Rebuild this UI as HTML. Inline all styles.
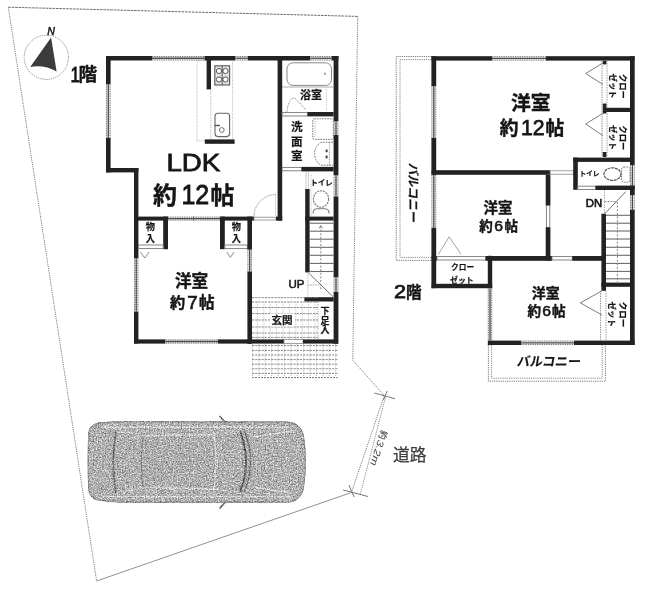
<!DOCTYPE html>
<html lang="ja"><head><meta charset="utf-8"><title>間取り図</title>
<style>
html,body{margin:0;padding:0;background:#fff}
body{width:651px;height:596px;overflow:hidden;font-family:"Liberation Sans",sans-serif}
svg{display:block;font-family:"Liberation Sans",sans-serif;filter:grayscale(1)}
.cj{font-family:"Liberation Sans","Noto Sans CJK JP",sans-serif}
</style></head><body>
<svg width="651" height="596" viewBox="0 0 651 596">
<rect width="651" height="596" fill="#fff"/>
<g opacity="0.999">
<line x1="8.3" y1="7.2" x2="357.7" y2="16.4" stroke="#6c6c6c" stroke-width="1" stroke-dasharray="2.6 0.8"/>
<line x1="8.3" y1="7.2" x2="96.6" y2="581" stroke="#7c7c7c" stroke-width="1" stroke-dasharray="1.2 1"/>
<polyline points="357.7,16.4 352.8,360.2 384.3,395.6 351.4,492.5" fill="none" stroke="#7c7c7c" stroke-width="1" stroke-dasharray="1.2 1"/>
<line x1="351.4" y1="492.5" x2="96.6" y2="581" stroke="#858585" stroke-width="0.9"/>
<line x1="385.4" y1="397.5" x2="360" y2="495.4" stroke="#8a8a8a" stroke-width="1" stroke-dasharray="1.2 1"/>
<line x1="374.3" y1="393" x2="395" y2="398.7" stroke="#777" stroke-width="1"/>
<line x1="387.2" y1="391" x2="383.4" y2="400" stroke="#777" stroke-width="1"/>
<line x1="343" y1="490" x2="368" y2="496.5" stroke="#777" stroke-width="1"/>
<line x1="349" y1="485" x2="354" y2="497" stroke="#777" stroke-width="1"/>
<circle cx="46.3" cy="57.3" r="22.1" fill="none" stroke="#8a8a8a" stroke-width="1" stroke-dasharray="1.2 1"/>
<path d="M51.1 37.6 L30.2 67 Q44.5 64.5 56.6 71.6 Z" fill="#3c3c3c"/>
<text x="47.3" y="35.3" font-size="10.6" text-anchor="start" font-weight="normal" font-style="italic" fill="#151515" stroke="#151515" stroke-width="0.45">N</text>
<defs><filter id="grain" x="-3%" y="-6%" width="106%" height="112%" color-interpolation-filters="sRGB"><feTurbulence type="fractalNoise" baseFrequency="0.75" numOctaves="2" seed="11" result="t"/><feColorMatrix in="t" type="matrix" values="1 0 0 0 0  1 0 0 0 0  1 0 0 0 0  0 0 0 0 1" result="n"/><feComposite in="SourceGraphic" in2="n" operator="arithmetic" k1="0" k2="1" k3="0.9" k4="-0.425" result="m"/><feComposite in="m" in2="SourceGraphic" operator="in"/></filter></defs>
<g filter="url(#grain)">
<path d="M98.5 423.2 Q112 421.6 126 421.6 L288 422.2 Q300 423 303.4 436 Q307.2 462 303.4 488 Q300 501 288 502 L126 502.2 Q110 502 97 499.6 Q89.5 497.5 88.8 489 Q87.6 462 88.8 433 Q89.6 425.2 98.5 423.2 Z" fill="#aaaaaa" stroke="#8a8a8a" stroke-width="1.2"/>
<path d="M143 436 L214 434.5 Q218 462 214 489 L143 487.5 Q139.5 462 143 436 Z" fill="#a8a8a8" stroke="#cdcdcd" stroke-width="1.3"/>
<path d="M143 436 Q139.5 462 143 487.5" fill="none" stroke="#7a7a7a" stroke-width="1.3"/>
<path d="M116 431 Q110.5 462 116 493" fill="none" stroke="#666" stroke-width="1.6"/>
<path d="M116 431 L143 436 M116 493 L143 487.5" fill="none" stroke="#c4c4c4" stroke-width="1.1"/>
<path d="M240 431 Q252 462 240 492" fill="none" stroke="#505050" stroke-width="1.8"/>
<path d="M244.5 431.5 Q256.5 462 244.5 491.5" fill="none" stroke="#6a6a6a" stroke-width="1.3"/>
<path d="M214 434.5 L240 431 M214 489 L240 492" fill="none" stroke="#c4c4c4" stroke-width="1.1"/>
<path d="M253 437 L292 431 M253 487 L292 493" fill="none" stroke="#cfcfcf" stroke-width="1.3"/>
<path d="M102 427.2 L290 427.2 M102 496.6 L290 496.6" fill="none" stroke="#cfcfcf" stroke-width="1.4"/>
<path d="M219.5 416 L226.5 423.5 M219.5 508.5 L226.5 501" stroke="#707070" stroke-width="1.6" fill="none"/>
</g>
<rect x="106" y="56" width="46" height="4.5" fill="#222"/>
<rect x="152" y="56" width="52.5" height="4.5" fill="#f1f1f1"/>
<line x1="152" y1="56.5" x2="204.5" y2="56.5" stroke="#6e6e6e" stroke-width="0.9" stroke-dasharray="1.4 0.9"/>
<line x1="152" y1="60" x2="204.5" y2="60" stroke="#6e6e6e" stroke-width="0.9" stroke-dasharray="1.4 0.9"/>
<line x1="152" y1="58.25" x2="204.5" y2="58.25" stroke="#4a4a4a" stroke-width="1.3"/>
<rect x="204.5" y="56" width="30.5" height="4.5" fill="#222"/>
<rect x="235" y="56" width="13" height="4.5" fill="#f1f1f1"/>
<line x1="235" y1="56.5" x2="248" y2="56.5" stroke="#6e6e6e" stroke-width="0.9" stroke-dasharray="1.4 0.9"/>
<line x1="235" y1="60" x2="248" y2="60" stroke="#6e6e6e" stroke-width="0.9" stroke-dasharray="1.4 0.9"/>
<line x1="235" y1="58.25" x2="248" y2="58.25" stroke="#4a4a4a" stroke-width="1.3"/>
<rect x="248" y="56" width="62.3" height="4.5" fill="#222"/>
<rect x="310.3" y="56" width="21.3" height="4.5" fill="#f1f1f1"/>
<line x1="310.3" y1="56.5" x2="331.6" y2="56.5" stroke="#6e6e6e" stroke-width="0.9" stroke-dasharray="1.4 0.9"/>
<line x1="310.3" y1="60" x2="331.6" y2="60" stroke="#6e6e6e" stroke-width="0.9" stroke-dasharray="1.4 0.9"/>
<line x1="310.3" y1="58.25" x2="331.6" y2="58.25" stroke="#4a4a4a" stroke-width="1.3"/>
<rect x="331.6" y="56" width="6.8" height="4.5" fill="#222"/>
<rect x="106" y="56" width="4.6" height="28" fill="#222"/>
<rect x="106" y="84" width="4.6" height="54" fill="#f1f1f1"/>
<line x1="106.5" y1="84" x2="106.5" y2="138" stroke="#6e6e6e" stroke-width="0.9" stroke-dasharray="1.4 0.9"/>
<line x1="110.1" y1="84" x2="110.1" y2="138" stroke="#6e6e6e" stroke-width="0.9" stroke-dasharray="1.4 0.9"/>
<line x1="108.3" y1="84" x2="108.3" y2="138" stroke="#4a4a4a" stroke-width="1.3"/>
<rect x="106" y="138" width="4.6" height="34.4" fill="#222"/>
<rect x="106" y="168" width="32.4" height="4.4" fill="#222"/>
<rect x="134" y="168" width="4.4" height="90" fill="#222"/>
<rect x="134" y="258" width="4.4" height="53.6" fill="#f1f1f1"/>
<line x1="134.5" y1="258" x2="134.5" y2="311.6" stroke="#6e6e6e" stroke-width="0.9" stroke-dasharray="1.4 0.9"/>
<line x1="137.9" y1="258" x2="137.9" y2="311.6" stroke="#6e6e6e" stroke-width="0.9" stroke-dasharray="1.4 0.9"/>
<line x1="136.2" y1="258" x2="136.2" y2="311.6" stroke="#4a4a4a" stroke-width="1.3"/>
<rect x="134" y="311.6" width="4.4" height="32" fill="#222"/>
<rect x="134" y="339.4" width="31.5" height="4.2" fill="#222"/>
<rect x="165.5" y="339.4" width="52.5" height="4.2" fill="#f1f1f1"/>
<line x1="165.5" y1="339.9" x2="218" y2="339.9" stroke="#6e6e6e" stroke-width="0.9" stroke-dasharray="1.4 0.9"/>
<line x1="165.5" y1="343.1" x2="218" y2="343.1" stroke="#6e6e6e" stroke-width="0.9" stroke-dasharray="1.4 0.9"/>
<line x1="165.5" y1="341.5" x2="218" y2="341.5" stroke="#4a4a4a" stroke-width="1.3"/>
<rect x="218" y="339.4" width="66" height="4.2" fill="#222"/>
<rect x="284" y="339.6" width="19" height="3.8" fill="#fff" stroke="#888" stroke-width="0.8"/>
<rect x="303" y="339.4" width="35" height="4.2" fill="#222"/>
<rect x="333.6" y="56" width="4.8" height="65" fill="#222"/>
<rect x="333.6" y="121" width="4.8" height="14" fill="#f1f1f1"/>
<line x1="334.1" y1="121" x2="334.1" y2="135" stroke="#6e6e6e" stroke-width="0.9" stroke-dasharray="1.4 0.9"/>
<line x1="337.9" y1="121" x2="337.9" y2="135" stroke="#6e6e6e" stroke-width="0.9" stroke-dasharray="1.4 0.9"/>
<line x1="336" y1="121" x2="336" y2="135" stroke="#4a4a4a" stroke-width="1.3"/>
<rect x="333.6" y="135" width="4.8" height="40" fill="#222"/>
<rect x="333.6" y="175" width="4.8" height="21.5" fill="#f1f1f1"/>
<line x1="334.1" y1="175" x2="334.1" y2="196.5" stroke="#6e6e6e" stroke-width="0.9" stroke-dasharray="1.4 0.9"/>
<line x1="337.9" y1="175" x2="337.9" y2="196.5" stroke="#6e6e6e" stroke-width="0.9" stroke-dasharray="1.4 0.9"/>
<line x1="336" y1="175" x2="336" y2="196.5" stroke="#4a4a4a" stroke-width="1.3"/>
<rect x="333.6" y="196.5" width="4.8" height="80.5" fill="#222"/>
<rect x="333.6" y="277" width="4.8" height="15" fill="#f1f1f1"/>
<line x1="334.1" y1="277" x2="334.1" y2="292" stroke="#6e6e6e" stroke-width="0.9" stroke-dasharray="1.4 0.9"/>
<line x1="337.9" y1="277" x2="337.9" y2="292" stroke="#6e6e6e" stroke-width="0.9" stroke-dasharray="1.4 0.9"/>
<line x1="336" y1="277" x2="336" y2="292" stroke="#4a4a4a" stroke-width="1.3"/>
<rect x="333.6" y="292" width="4.8" height="51.8" fill="#222"/>
<rect x="277.6" y="56" width="4.6" height="164.6" fill="#222"/>
<path d="M254 216.6 A22 22 0 0 1 276 194.6" fill="none" stroke="#808080" stroke-width="1" stroke-dasharray="1.2 1"/>
<line x1="275.6" y1="195" x2="275.6" y2="216.6" stroke="#999" stroke-width="0.8" stroke-dasharray="1 1.2"/>
<rect x="134" y="216.6" width="34" height="4" fill="#222"/>
<rect x="168" y="216.6" width="52.8" height="4" fill="#f1f1f1"/>
<line x1="168" y1="217.1" x2="220.8" y2="217.1" stroke="#6e6e6e" stroke-width="0.9" stroke-dasharray="1.4 0.9"/>
<line x1="168" y1="220.1" x2="220.8" y2="220.1" stroke="#6e6e6e" stroke-width="0.9" stroke-dasharray="1.4 0.9"/>
<line x1="168" y1="218.6" x2="220.8" y2="218.6" stroke="#4a4a4a" stroke-width="1.3"/>
<line x1="193.5" y1="216.6" x2="193.5" y2="220.6" stroke="#666" stroke-width="1"/>
<rect x="220.8" y="216.6" width="33.2" height="4" fill="#222"/>
<rect x="254" y="217.2" width="22" height="2.8" fill="#fff" stroke="#888" stroke-width="0.8"/>
<rect x="276" y="216.6" width="6.2" height="4" fill="#222"/>
<rect x="163.2" y="216.6" width="4.8" height="32.6" fill="#222"/>
<rect x="138.4" y="245" width="24.8" height="3.6" fill="#fff" stroke="#777" stroke-width="0.9"/>
<path d="M140.4 252 L144.8 258 L149.2 252" fill="none" stroke="#808080" stroke-width="0.9"/>
<rect x="220" y="216.6" width="4.8" height="32.6" fill="#222"/>
<rect x="224.8" y="245" width="22.6" height="3.6" fill="#fff" stroke="#777" stroke-width="0.9"/>
<path d="M226.8 252 L230.4 257.4 L234 252" fill="none" stroke="#808080" stroke-width="0.9"/>
<rect x="247.4" y="216.6" width="4.6" height="33.2" fill="#222"/>
<rect x="247.4" y="249.8" width="4.6" height="21.7" fill="#f1f1f1"/>
<line x1="247.9" y1="249.8" x2="247.9" y2="271.5" stroke="#6e6e6e" stroke-width="0.9" stroke-dasharray="1.4 0.9"/>
<line x1="251.5" y1="249.8" x2="251.5" y2="271.5" stroke="#6e6e6e" stroke-width="0.9" stroke-dasharray="1.4 0.9"/>
<line x1="249.7" y1="249.8" x2="249.7" y2="271.5" stroke="#4a4a4a" stroke-width="1.3"/>
<rect x="247.4" y="271.5" width="4.6" height="72.3" fill="#222"/>
<rect x="282.2" y="112.6" width="25.4" height="3.4" fill="#fff" stroke="#777" stroke-width="0.9"/>
<rect x="307.6" y="112" width="26" height="4.4" fill="#222"/>
<path d="M287 111.6 Q288.5 98.5 294.5 97.8 L306 109.8" fill="none" stroke="#808080" stroke-width="1" stroke-dasharray="1.4 1"/>
<rect x="282.2" y="167.4" width="19.4" height="3.4" fill="#fff" stroke="#777" stroke-width="0.9"/>
<rect x="301.6" y="166.9" width="32" height="4.5" fill="#222"/>
<line x1="306" y1="171.4" x2="306" y2="189" stroke="#888" stroke-width="0.9" stroke-dasharray="1 1"/>
<line x1="308.4" y1="171.4" x2="308.4" y2="189" stroke="#999" stroke-width="0.9" stroke-dasharray="1 1"/>
<rect x="305.2" y="189" width="4.4" height="83.4" fill="#222"/>
<rect x="305" y="216.6" width="28.6" height="4" fill="#222"/>
<line x1="309.6" y1="223.2" x2="333.6" y2="223.2" stroke="#6a6a6a" stroke-width="1.1"/>
<line x1="309.6" y1="231.2" x2="333.6" y2="231.2" stroke="#6a6a6a" stroke-width="1.1"/>
<line x1="309.6" y1="239.2" x2="333.6" y2="239.2" stroke="#6a6a6a" stroke-width="1.1"/>
<line x1="309.6" y1="247.3" x2="333.6" y2="247.3" stroke="#6a6a6a" stroke-width="1.1"/>
<line x1="309.6" y1="255.3" x2="333.6" y2="255.3" stroke="#6a6a6a" stroke-width="1.1"/>
<line x1="309.6" y1="263.4" x2="333.6" y2="263.4" stroke="#6a6a6a" stroke-width="1.1"/>
<line x1="309.6" y1="271.5" x2="333.6" y2="271.5" stroke="#6a6a6a" stroke-width="1.1"/>
<line x1="320.8" y1="226" x2="320.8" y2="290" stroke="#777" stroke-width="0.9" stroke-dasharray="2 1.6"/>
<path d="M319 228.5 L320.8 225.5 L322.6 228.5" fill="none" stroke="#777" stroke-width="0.8"/>
<line x1="308.6" y1="273" x2="332.8" y2="296.5" stroke="#707070" stroke-width="1"/>
<line x1="307.8" y1="273.5" x2="307.8" y2="296.5" stroke="#999" stroke-width="0.8" stroke-dasharray="1 1.2"/>
<path d="M307.8 285 L320.6 285" fill="none" stroke="#999" stroke-width="0.9" stroke-dasharray="1.5 1"/>
<rect x="304.4" y="297.2" width="29.2" height="4.3" fill="#222"/>
<g stroke="#7a7a7a" stroke-width="0.9" stroke-dasharray="2.2 1" fill="none">
<line x1="252" y1="297.6" x2="318" y2="297.6"/>
<line x1="252" y1="302" x2="318" y2="302"/>
<line x1="252" y1="307.5" x2="318" y2="307.5"/>
<line x1="252" y1="313.6" x2="318" y2="313.6"/>
<line x1="252" y1="320" x2="318" y2="320"/>
<line x1="252" y1="327" x2="318" y2="327"/>
<line x1="252" y1="333" x2="318" y2="333"/>
<line x1="252" y1="337.4" x2="318" y2="337.4"/>
<line x1="252" y1="345.6" x2="337.5" y2="345.6"/>
<line x1="252" y1="350.4" x2="337.5" y2="350.4"/>
<line x1="252" y1="355" x2="337.5" y2="355"/>
<line x1="252" y1="359.6" x2="337.5" y2="359.6"/>
<line x1="252" y1="364.2" x2="337.5" y2="364.2"/>
<line x1="252" y1="368.8" x2="337.5" y2="368.8"/>
<line x1="252" y1="373.4" x2="337.5" y2="373.4"/>
</g>
<g stroke="#9c9c9c" stroke-width="0.8" stroke-dasharray="1 1.4" fill="none">
<line x1="257.5" y1="302" x2="257.5" y2="339.4"/>
<line x1="263.9" y1="302" x2="263.9" y2="339.4"/>
<line x1="270.3" y1="302" x2="270.3" y2="339.4"/>
<line x1="276.7" y1="302" x2="276.7" y2="339.4"/>
<line x1="283.1" y1="302" x2="283.1" y2="339.4"/>
<line x1="289.5" y1="302" x2="289.5" y2="339.4"/>
<line x1="295.9" y1="302" x2="295.9" y2="339.4"/>
<line x1="302.3" y1="302" x2="302.3" y2="339.4"/>
<line x1="308.7" y1="302" x2="308.7" y2="339.4"/>
<line x1="315.1" y1="302" x2="315.1" y2="339.4"/>
<line x1="318" y1="301.6" x2="318" y2="339.4" stroke="#888"/>
<line x1="252.4" y1="343.8" x2="252.4" y2="377.5"/>
<line x1="258.8" y1="343.8" x2="258.8" y2="377.5"/>
<line x1="265.2" y1="343.8" x2="265.2" y2="377.5"/>
<line x1="271.6" y1="343.8" x2="271.6" y2="377.5"/>
<line x1="278" y1="343.8" x2="278" y2="377.5"/>
<line x1="284.4" y1="343.8" x2="284.4" y2="377.5"/>
<line x1="290.8" y1="343.8" x2="290.8" y2="377.5"/>
<line x1="297.2" y1="343.8" x2="297.2" y2="377.5"/>
<line x1="303.6" y1="343.8" x2="303.6" y2="377.5"/>
<line x1="310" y1="343.8" x2="310" y2="377.5"/>
<line x1="316.4" y1="343.8" x2="316.4" y2="377.5"/>
<line x1="322.8" y1="343.8" x2="322.8" y2="377.5"/>
<line x1="329.2" y1="343.8" x2="329.2" y2="377.5"/>
<line x1="335.6" y1="343.8" x2="335.6" y2="377.5"/>
</g>
<line x1="252" y1="377.6" x2="337.5" y2="377.6" stroke="#777" stroke-width="1" stroke-dasharray="2 1"/>
<rect x="270" y="313.5" width="25" height="13" fill="#fff"/>
<polyline points="204.5,60.5 197,60.5 197,140.8 205,140.8" fill="none" stroke="#999" stroke-width="0.8" stroke-dasharray="1 1.2"/>
<rect x="206.6" y="60" width="4.4" height="29.4" fill="#222"/>
<line x1="210.8" y1="89.4" x2="210.8" y2="139.5" stroke="#999" stroke-width="0.8" stroke-dasharray="1 1.2"/>
<line x1="232.6" y1="60.5" x2="232.6" y2="139.5" stroke="#999" stroke-width="0.8" stroke-dasharray="1 1.2"/>
<rect x="204.8" y="139.4" width="29.8" height="4.4" fill="#222"/>
<rect x="214.8" y="65.8" width="14.8" height="19.2" fill="#e4e4e4" stroke="#555" stroke-width="1.1"/>
<g stroke="#555" stroke-width="1" fill="#fff"><circle cx="219" cy="71" r="2.6"/><circle cx="225.5" cy="71" r="2.6"/><circle cx="219" cy="79.5" r="2.6"/><circle cx="225.5" cy="79.5" r="2.6"/><line x1="222.2" y1="66" x2="222.2" y2="85"/></g>
<rect x="215" y="113.2" width="14.6" height="23.4" rx="3" fill="none" stroke="#666" stroke-width="1.1"/>
<circle cx="221.8" cy="130" r="2.4" fill="none" stroke="#666" stroke-width="0.9"/>
<line x1="214.5" y1="125.5" x2="220" y2="125.5" stroke="#555" stroke-width="1.4"/>
<rect x="287" y="62.8" width="44.5" height="22.6" rx="6" fill="none" stroke="#888" stroke-width="1"/>
<line x1="282" y1="87" x2="333.6" y2="87" stroke="#999" stroke-width="0.8"/>
<path d="M324 72.5 l2 1.5 l-2.5 0.5" fill="none" stroke="#888" stroke-width="0.8"/>
<line x1="326.5" y1="89" x2="326.5" y2="110" stroke="#aaa" stroke-width="0.8" stroke-dasharray="1 1.2"/>
<rect x="312.8" y="118.8" width="20.6" height="20.6" rx="1.5" fill="none" stroke="#777" stroke-width="1" stroke-dasharray="1.6 1"/>
<line x1="315" y1="121" x2="315" y2="137.5" stroke="#999" stroke-width="0.8" stroke-dasharray="1 1.2"/>
<path d="M333 142.2 L321 142.2 Q314.6 146.5 314.6 153.7 Q314.6 161 321 165.2 L333 165.2" fill="none" stroke="#777" stroke-width="1" stroke-dasharray="1.8 1"/>
<line x1="329.4" y1="142.2" x2="329.4" y2="165.2" stroke="#888" stroke-width="0.9" stroke-dasharray="1.2 1.2"/>
<line x1="326.6" y1="149.5" x2="326.6" y2="152.2" stroke="#444" stroke-width="2"/>
<line x1="326.6" y1="155.6" x2="326.6" y2="158.4" stroke="#444" stroke-width="2"/>
<ellipse cx="321" cy="199" rx="7.6" ry="8.2" fill="none" stroke="#777" stroke-width="1.1" stroke-dasharray="2.2 0.8"/>
<path d="M313.2 213.4 Q313 209 317 208.8 L325 208.8 Q329.2 209 329 213.4" fill="none" stroke="#777" stroke-width="1.1"/>
<line x1="311" y1="175" x2="311" y2="216" stroke="#aaa" stroke-width="0.8" stroke-dasharray="1 1.2"/>
<polyline points="431.6,56.5 396.2,56.5 396.2,260.4 431.6,260.4" fill="none" stroke="#6a6a6a" stroke-width="0.9" stroke-dasharray="1.2 1"/>
<polyline points="431.6,59.6 400,59.6 400,257.4 431.6,257.4" fill="none" stroke="#7a7a7a" stroke-width="0.9" stroke-dasharray="1.2 1"/>
<rect x="431.6" y="56.2" width="60.4" height="4.4" fill="#222"/>
<rect x="492" y="56.2" width="54" height="4.4" fill="#f1f1f1"/>
<line x1="492" y1="56.7" x2="546" y2="56.7" stroke="#6e6e6e" stroke-width="0.9" stroke-dasharray="1.4 0.9"/>
<line x1="492" y1="60.1" x2="546" y2="60.1" stroke="#6e6e6e" stroke-width="0.9" stroke-dasharray="1.4 0.9"/>
<line x1="492" y1="58.4" x2="546" y2="58.4" stroke="#4a4a4a" stroke-width="1.3"/>
<rect x="546" y="56.2" width="88.6" height="4.4" fill="#222"/>
<rect x="431.4" y="56.2" width="4.8" height="29.8" fill="#222"/>
<rect x="431.4" y="86" width="4.8" height="52" fill="#f1f1f1"/>
<line x1="431.9" y1="86" x2="431.9" y2="138" stroke="#6e6e6e" stroke-width="0.9" stroke-dasharray="1.4 0.9"/>
<line x1="435.7" y1="86" x2="435.7" y2="138" stroke="#6e6e6e" stroke-width="0.9" stroke-dasharray="1.4 0.9"/>
<line x1="433.8" y1="86" x2="433.8" y2="138" stroke="#4a4a4a" stroke-width="1.3"/>
<rect x="431.4" y="138" width="4.8" height="36.8" fill="#222"/>
<rect x="431.4" y="174.8" width="4.8" height="52.8" fill="#f1f1f1"/>
<line x1="431.9" y1="174.8" x2="431.9" y2="227.6" stroke="#6e6e6e" stroke-width="0.9" stroke-dasharray="1.4 0.9"/>
<line x1="435.7" y1="174.8" x2="435.7" y2="227.6" stroke="#6e6e6e" stroke-width="0.9" stroke-dasharray="1.4 0.9"/>
<line x1="433.8" y1="174.8" x2="433.8" y2="227.6" stroke="#4a4a4a" stroke-width="1.3"/>
<rect x="431.4" y="227.6" width="4.8" height="60.6" fill="#222"/>
<rect x="630" y="56.2" width="4.7" height="108.8" fill="#222"/>
<rect x="630" y="165" width="4.7" height="20.6" fill="#f1f1f1"/>
<line x1="630.5" y1="165" x2="630.5" y2="185.6" stroke="#6e6e6e" stroke-width="0.9" stroke-dasharray="1.4 0.9"/>
<line x1="634.2" y1="165" x2="634.2" y2="185.6" stroke="#6e6e6e" stroke-width="0.9" stroke-dasharray="1.4 0.9"/>
<line x1="632.35" y1="165" x2="632.35" y2="185.6" stroke="#4a4a4a" stroke-width="1.3"/>
<rect x="630" y="185.6" width="4.7" height="9.4" fill="#222"/>
<rect x="630" y="195" width="4.7" height="14.8" fill="#f1f1f1"/>
<line x1="630.5" y1="195" x2="630.5" y2="209.8" stroke="#6e6e6e" stroke-width="0.9" stroke-dasharray="1.4 0.9"/>
<line x1="634.2" y1="195" x2="634.2" y2="209.8" stroke="#6e6e6e" stroke-width="0.9" stroke-dasharray="1.4 0.9"/>
<line x1="632.35" y1="195" x2="632.35" y2="209.8" stroke="#4a4a4a" stroke-width="1.3"/>
<rect x="630" y="209.8" width="4.7" height="135.2" fill="#222"/>
<rect x="431.6" y="170.2" width="118.6" height="4.6" fill="#222"/>
<rect x="550.2" y="170.8" width="23.4" height="3.4" fill="#fff" stroke="#888" stroke-width="0.8"/>
<line x1="602" y1="60.6" x2="602" y2="156.6" stroke="#808080" stroke-width="0.9" stroke-dasharray="1.4 1"/>
<line x1="607" y1="60.6" x2="607" y2="156.6" stroke="#909090" stroke-width="0.9" stroke-dasharray="1.4 1"/>
<rect x="603" y="107.8" width="27.2" height="4.2" fill="#222"/>
<rect x="602.8" y="103.5" width="3.6" height="10" fill="#222"/>
<rect x="602.8" y="60.8" width="3.6" height="3.6" fill="#222"/>
<rect x="602.8" y="152" width="3.6" height="5" fill="#222"/>
<rect x="573.2" y="157.6" width="57" height="4.3" fill="#222"/>
<polyline points="602.8,63 585.7,73.5 602.8,84.4" fill="none" stroke="#707070" stroke-width="0.9"/>
<polyline points="602.8,113.4 585.7,124 602.8,135.6" fill="none" stroke="#707070" stroke-width="0.9"/>
<rect x="573.2" y="157.6" width="4.6" height="32.2" fill="#222"/>
<rect x="577.8" y="186.2" width="17.8" height="3.2" fill="#fff" stroke="#777" stroke-width="0.9"/>
<rect x="595.6" y="185.6" width="39.1" height="4.4" fill="#222"/>
<ellipse cx="612.5" cy="174.1" rx="8.5" ry="6.3" fill="none" stroke="#555" stroke-width="1.2" stroke-dasharray="3 0.7"/>
<rect x="621.6" y="167" width="8.4" height="15.2" rx="2" fill="none" stroke="#777" stroke-width="1" stroke-dasharray="1.6 1"/>
<rect x="545.7" y="174.8" width="4.7" height="30.8" fill="#222"/>
<rect x="546.4" y="205.6" width="3.4" height="21.8" fill="#fff" stroke="#777" stroke-width="0.9"/>
<rect x="545.7" y="227.4" width="4.7" height="33.2" fill="#222"/>
<rect x="431.6" y="256" width="5.4" height="4.8" fill="#222"/>
<rect x="437" y="256.6" width="48.6" height="3.4" fill="#fff" stroke="#777" stroke-width="0.9"/>
<rect x="485.6" y="256" width="66.4" height="4.8" fill="#222"/>
<rect x="552" y="256.6" width="20.3" height="3.4" fill="#fff" stroke="#777" stroke-width="0.9"/>
<rect x="572.3" y="256" width="33.7" height="4.8" fill="#222"/>
<polyline points="438.4,254.4 449.2,236.8 461,254.4" fill="none" stroke="#999" stroke-width="0.9"/>
<rect x="487.8" y="255.8" width="4.4" height="32.4" fill="#222"/>
<rect x="431.6" y="283.8" width="60.6" height="4.4" fill="#222"/>
<rect x="487.8" y="288.2" width="4.4" height="52.4" fill="#f1f1f1"/>
<line x1="488.3" y1="288.2" x2="488.3" y2="340.6" stroke="#6e6e6e" stroke-width="0.9" stroke-dasharray="1.4 0.9"/>
<line x1="491.7" y1="288.2" x2="491.7" y2="340.6" stroke="#6e6e6e" stroke-width="0.9" stroke-dasharray="1.4 0.9"/>
<line x1="490" y1="288.2" x2="490" y2="340.6" stroke="#4a4a4a" stroke-width="1.3"/>
<rect x="487.8" y="340.6" width="33.2" height="4.4" fill="#222"/>
<rect x="521" y="340.6" width="53" height="4.4" fill="#f1f1f1"/>
<line x1="521" y1="341.1" x2="574" y2="341.1" stroke="#6e6e6e" stroke-width="0.9" stroke-dasharray="1.4 0.9"/>
<line x1="521" y1="344.5" x2="574" y2="344.5" stroke="#6e6e6e" stroke-width="0.9" stroke-dasharray="1.4 0.9"/>
<line x1="521" y1="342.8" x2="574" y2="342.8" stroke="#4a4a4a" stroke-width="1.3"/>
<rect x="574" y="340.6" width="60.6" height="4.4" fill="#222"/>
<rect x="601.4" y="213.7" width="4.6" height="77.1" fill="#222"/>
<rect x="601.4" y="282.6" width="28.8" height="4.2" fill="#222"/>
<line x1="606" y1="215.3" x2="630" y2="215.3" stroke="#6a6a6a" stroke-width="1.1"/>
<line x1="606" y1="223.2" x2="630" y2="223.2" stroke="#6a6a6a" stroke-width="1.1"/>
<line x1="606" y1="231" x2="630" y2="231" stroke="#6a6a6a" stroke-width="1.1"/>
<line x1="606" y1="239" x2="630" y2="239" stroke="#6a6a6a" stroke-width="1.1"/>
<line x1="606" y1="247.3" x2="630" y2="247.3" stroke="#6a6a6a" stroke-width="1.1"/>
<line x1="606" y1="255.3" x2="630" y2="255.3" stroke="#6a6a6a" stroke-width="1.1"/>
<line x1="606" y1="263.4" x2="630" y2="263.4" stroke="#6a6a6a" stroke-width="1.1"/>
<line x1="606" y1="271.4" x2="630" y2="271.4" stroke="#6a6a6a" stroke-width="1.1"/>
<line x1="606" y1="278.8" x2="630" y2="278.8" stroke="#6a6a6a" stroke-width="1.1"/>
<line x1="617.4" y1="202" x2="617.4" y2="282" stroke="#777" stroke-width="0.9" stroke-dasharray="2 1.6"/>
<line x1="626" y1="191.5" x2="605" y2="213.4" stroke="#707070" stroke-width="1"/>
<line x1="604.5" y1="190" x2="604.5" y2="213.7" stroke="#888" stroke-width="0.9" stroke-dasharray="1.2 1.2"/>
<path d="M604.5 201.6 L616 201.6" fill="none" stroke="#808080" stroke-width="0.9" stroke-dasharray="2 1"/>
<line x1="600.6" y1="290.8" x2="600.6" y2="340.6" stroke="#808080" stroke-width="0.9" stroke-dasharray="1.4 1"/>
<line x1="606" y1="290.8" x2="606" y2="340.6" stroke="#909090" stroke-width="0.9" stroke-dasharray="1.4 1"/>
<polyline points="602,290.8 580.3,302.9 602,315" fill="none" stroke="#707070" stroke-width="0.9"/>
<polyline points="488.4,345 488.4,381.2 605.4,381.2 605.4,345" fill="none" stroke="#6a6a6a" stroke-width="0.9" stroke-dasharray="1.2 1"/>
<polyline points="491.6,345 491.6,378.2 602.2,378.2 602.2,345" fill="none" stroke="#7a7a7a" stroke-width="0.9" stroke-dasharray="1.2 1"/>
<text x="166.4" y="171.3" font-size="24.8" text-anchor="start" font-weight="normal" font-style="normal" fill="#151515" stroke="#151515" stroke-width="0.8" textLength="53.8" lengthAdjust="spacingAndGlyphs">LDK</text>
<text class="cj" x="153" y="204" font-size="24" font-weight="bold" fill="#151515" stroke="#151515" stroke-width="0.4">約</text>
<text x="181.4" y="204.2" font-size="27.2" text-anchor="start" font-weight="normal" font-style="normal" fill="#151515" stroke="#151515" stroke-width="0.8" textLength="27.8" lengthAdjust="spacingAndGlyphs">12</text>
<text class="cj" x="210.5" y="204" font-size="24" font-weight="bold" fill="#151515" stroke="#151515" stroke-width="0.4">帖</text>
<text class="cj" x="175" y="287" font-size="16.6" font-weight="bold" fill="#151515" stroke="#151515" stroke-width="0.4">洋室</text>
<text class="cj" x="170" y="308" font-size="15.2" font-weight="bold" fill="#151515" stroke="#151515" stroke-width="0.4">約</text>
<text x="187.2" y="308.9" font-size="18.2" text-anchor="start" font-weight="normal" font-style="normal" fill="#151515" stroke="#151515" stroke-width="0.7" textLength="10.4" lengthAdjust="spacingAndGlyphs">7</text>
<text class="cj" x="199" y="308" font-size="15.5" font-weight="bold" fill="#151515" stroke="#151515" stroke-width="0.4">帖</text>
<text class="cj" x="145.7" y="229.7" font-size="9.2" font-weight="bold" fill="#151515" stroke="#151515" stroke-width="0.2">物</text>
<text class="cj" x="145.7" y="241.7" font-size="9.2" font-weight="bold" fill="#151515" stroke="#151515" stroke-width="0.2">入</text>
<text class="cj" x="231.8" y="229.7" font-size="9.2" font-weight="bold" fill="#151515" stroke="#151515" stroke-width="0.2">物</text>
<text class="cj" x="231.8" y="241.7" font-size="9.2" font-weight="bold" fill="#151515" stroke="#151515" stroke-width="0.2">入</text>
<text class="cj" x="300" y="98.8" font-size="11" font-weight="bold" fill="#151515" stroke="#151515" stroke-width="0.2">浴室</text>
<text class="cj" x="291" y="131.3" font-size="11.6" font-weight="bold" fill="#151515" stroke="#151515" stroke-width="0.2">洗</text>
<text class="cj" x="291" y="145.8" font-size="11.6" font-weight="bold" fill="#151515" stroke="#151515" stroke-width="0.2">面</text>
<text class="cj" x="291" y="159.7" font-size="11.6" font-weight="bold" fill="#151515" stroke="#151515" stroke-width="0.2">室</text>
<text class="cj" x="310.5" y="185.3" font-size="7.4" font-weight="bold" fill="#151515" stroke="#151515" stroke-width="0.2">トイレ</text>
<text x="288.4" y="287.6" font-size="11.3" text-anchor="start" font-weight="normal" font-style="normal" fill="#151515" stroke="#151515" stroke-width="0.5" textLength="16" lengthAdjust="spacingAndGlyphs">UP</text>
<text class="cj" x="271.5" y="324" font-size="10.6" font-weight="bold" fill="#151515" stroke="#151515" stroke-width="0.2">玄関</text>
<text class="cj" x="320.5" y="313.6" font-size="9" font-weight="bold" fill="#151515" stroke="#151515" stroke-width="0.2">下</text>
<text class="cj" x="320.5" y="323.6" font-size="9" font-weight="bold" fill="#151515" stroke="#151515" stroke-width="0.2">足</text>
<text class="cj" x="320.5" y="333.4" font-size="9" font-weight="bold" fill="#151515" stroke="#151515" stroke-width="0.2">入</text>
<text x="70.6" y="82.2" font-size="21.4" text-anchor="start" font-weight="normal" font-style="normal" fill="#151515" stroke="#151515" stroke-width="0.8" textLength="9.4" lengthAdjust="spacingAndGlyphs">1</text>
<text class="cj" x="78.5" y="81" font-size="18.6" font-weight="bold" fill="#151515" stroke="#151515" stroke-width="0.4">階</text>
<text class="cj" x="511" y="109.6" font-size="19.8" font-weight="bold" fill="#151515" stroke="#151515" stroke-width="0.4">洋室</text>
<text class="cj" x="499.8" y="135" font-size="18.8" font-weight="bold" fill="#151515" stroke="#151515" stroke-width="0.4">約</text>
<text x="521" y="135.3" font-size="21.6" text-anchor="start" font-weight="normal" font-style="normal" fill="#151515" stroke="#151515" stroke-width="0.75" textLength="23.6" lengthAdjust="spacingAndGlyphs">12</text>
<text class="cj" x="545.5" y="135" font-size="18.8" font-weight="bold" fill="#151515" stroke="#151515" stroke-width="0.4">帖</text>
<text class="cj" x="483.5" y="213.2" font-size="14.4" font-weight="bold" fill="#151515" stroke="#151515" stroke-width="0.4">洋室</text>
<text class="cj" x="479.3" y="231" font-size="13.5" font-weight="bold" fill="#151515" stroke="#151515" stroke-width="0.4">約</text>
<text x="494.2" y="231.4" font-size="15.5" text-anchor="start" font-weight="normal" font-style="normal" fill="#151515" stroke="#151515" stroke-width="0.6" textLength="8.8" lengthAdjust="spacingAndGlyphs">6</text>
<text class="cj" x="504.6" y="231" font-size="13.5" font-weight="bold" fill="#151515" stroke="#151515" stroke-width="0.4">帖</text>
<text class="cj" x="531.8" y="297.5" font-size="13.9" font-weight="bold" fill="#151515" stroke="#151515" stroke-width="0.4">洋室</text>
<text class="cj" x="527.4" y="315.8" font-size="13.6" font-weight="bold" fill="#151515" stroke="#151515" stroke-width="0.4">約</text>
<text x="542.3" y="316.3" font-size="15.5" text-anchor="start" font-weight="normal" font-style="normal" fill="#151515" stroke="#151515" stroke-width="0.6" textLength="8.8" lengthAdjust="spacingAndGlyphs">6</text>
<text class="cj" x="552" y="315.8" font-size="13.6" font-weight="bold" fill="#151515" stroke="#151515" stroke-width="0.4">帖</text>
<g transform="translate(413.1,193.25) rotate(90) skewX(-10)">
<text class="cj" x="0" y="4.4" font-size="12" text-anchor="middle" font-weight="bold" fill="#151515" stroke="#151515" stroke-width="0.15">バルコニー</text>
</g>
<g transform="translate(549,362.2) skewX(-10) translate(-549,-362.2)">
<text class="cj" x="549" y="366.4" font-size="12.8" text-anchor="middle" font-weight="bold" fill="#151515" stroke="#151515" stroke-width="0.15">バルコニー</text>
</g>
<g transform="translate(618.2,86.45) rotate(90)">
<text class="cj" x="0" y="-1.8" font-size="8.3" text-anchor="middle" font-weight="bold" fill="#151515" stroke="#151515" stroke-width="0.2">クロー</text>
<text class="cj" x="-0.4" y="8.4" font-size="8.3" text-anchor="middle" font-weight="bold" fill="#151515" stroke="#151515" stroke-width="0.2">ゼット</text>
</g>
<g transform="translate(618.2,137.9) rotate(90)">
<text class="cj" x="0" y="-1.8" font-size="8.3" text-anchor="middle" font-weight="bold" fill="#151515" stroke="#151515" stroke-width="0.2">クロー</text>
<text class="cj" x="-0.4" y="8.4" font-size="8.3" text-anchor="middle" font-weight="bold" fill="#151515" stroke="#151515" stroke-width="0.2">ゼット</text>
</g>
<g transform="translate(618.2,314.6) rotate(90)">
<text class="cj" x="0" y="-2" font-size="8.5" text-anchor="middle" font-weight="bold" fill="#151515" stroke="#151515" stroke-width="0.2">クロー</text>
<text class="cj" x="-0.4" y="9" font-size="8.5" text-anchor="middle" font-weight="bold" fill="#151515" stroke="#151515" stroke-width="0.2">ゼット</text>
</g>
<text class="cj" x="451" y="269.7" font-size="7.7" font-weight="bold" fill="#151515" stroke="#151515" stroke-width="0.2">クロー</text>
<text class="cj" x="450" y="282.5" font-size="7.9" font-weight="bold" fill="#151515" stroke="#151515" stroke-width="0.2">ゼット</text>
<text class="cj" x="579.5" y="176.3" font-size="6.7" font-weight="bold" fill="#151515" stroke="#151515" stroke-width="0.2">トイレ</text>
<text x="585.8" y="207.3" font-size="10.6" text-anchor="start" font-weight="normal" font-style="normal" fill="#151515" stroke="#151515" stroke-width="0.6" textLength="16.4" lengthAdjust="spacingAndGlyphs">DN</text>
<text x="394" y="298.3" font-size="18.6" text-anchor="start" font-weight="normal" font-style="normal" fill="#151515" stroke="#151515" stroke-width="0.75" textLength="12" lengthAdjust="spacingAndGlyphs">2</text>
<text class="cj" x="406" y="297.5" font-size="15.5" font-weight="bold" fill="#151515" stroke="#151515" stroke-width="0.4">階</text>
<text class="cj" x="393" y="460.5" font-size="16.8" font-weight="normal" fill="#3c3c3c" stroke="#3c3c3c" stroke-width="0.25">道路</text>
<g transform="translate(378.9,448.6) rotate(107.5)">
<text class="cj" x="-18.7" y="3.3" font-size="9" font-weight="normal" fill="#444" stroke="#444" stroke-width="0.15">約</text>
<text x="-8.8" y="3.6" font-size="9.8" font-style="italic" fill="#444" textLength="26.5" lengthAdjust="spacingAndGlyphs">3.2m</text>
</g>
</g>
</svg>
</body></html>
